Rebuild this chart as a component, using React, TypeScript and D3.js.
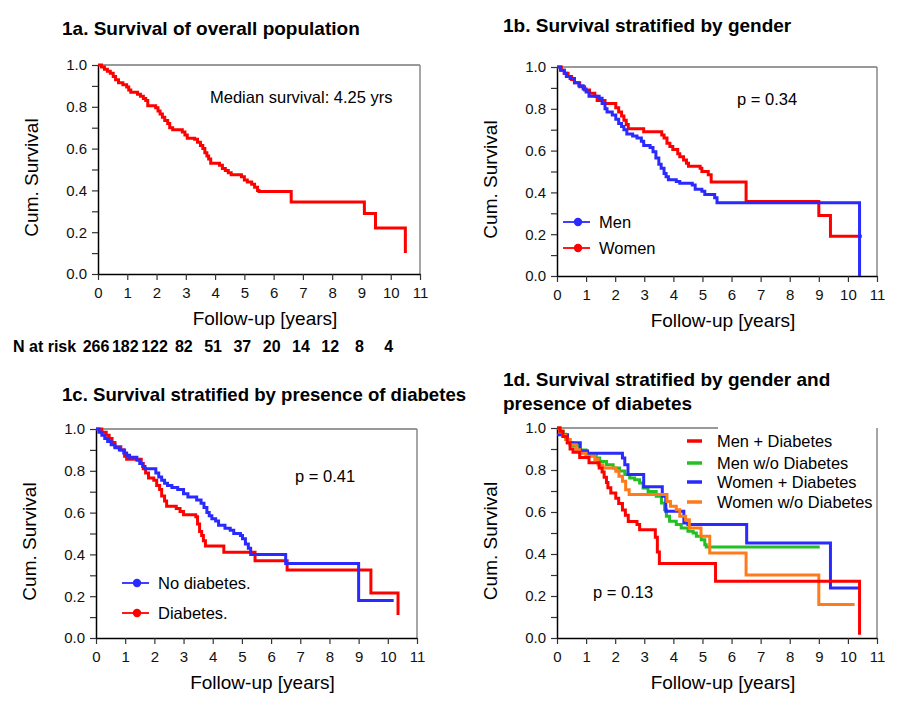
import { useEffect, useRef } from "react";
import { axisBottom, axisLeft, curveStepAfter, format, line, range, scaleLinear, select } from "d3";

type Pt = [number, number];

const years = range(0, 12);
const survTicks = range(0, 11).map(d => d / 10);
const atRisk = [266, 182, 122, 82, 51, 37, 20, 14, 12, 8, 4];

// 1a
const overall: Pt[] = [[0, 1], [0.12, 0.99], [0.22, 0.98], [0.32, 0.97], [0.42, 0.96], [0.52, 0.945], [0.6, 0.93], [0.7, 0.915], [0.85, 0.905], [0.98, 0.895], [1.05, 0.88], [1.12, 0.87], [1.35, 0.86], [1.45, 0.85], [1.55, 0.84], [1.63, 0.83], [1.7, 0.805], [1.97, 0.795], [2.05, 0.78], [2.12, 0.765], [2.2, 0.75], [2.28, 0.735], [2.38, 0.72], [2.45, 0.7], [2.55, 0.69], [2.88, 0.68], [2.97, 0.665], [3.05, 0.65], [3.3, 0.645], [3.4, 0.63], [3.5, 0.615], [3.58, 0.6], [3.65, 0.58], [3.72, 0.565], [3.78, 0.55], [3.85, 0.53], [4.15, 0.52], [4.25, 0.505], [4.35, 0.495], [4.45, 0.485], [4.55, 0.475], [4.9, 0.465], [5.0, 0.45], [5.1, 0.44], [5.25, 0.43], [5.35, 0.415], [5.45, 0.4], [5.5, 0.395], [6.6, 0.345], [9.1, 0.29], [9.48, 0.22], [10.5, 0.1]];

// 1b
const men: Pt[] = [[0, 1], [0.12, 0.985], [0.25, 0.97], [0.32, 0.955], [0.45, 0.945], [0.6, 0.925], [0.75, 0.91], [0.9, 0.895], [1.0, 0.88], [1.1, 0.86], [1.45, 0.85], [1.55, 0.825], [1.65, 0.8], [1.72, 0.785], [1.9, 0.77], [2.02, 0.75], [2.12, 0.73], [2.22, 0.715], [2.3, 0.7], [2.4, 0.68], [2.6, 0.67], [2.75, 0.66], [2.9, 0.645], [2.98, 0.625], [3.2, 0.615], [3.3, 0.595], [3.4, 0.565], [3.5, 0.535], [3.58, 0.515], [3.68, 0.49], [3.75, 0.475], [3.83, 0.46], [4.1, 0.452], [4.22, 0.444], [4.65, 0.435], [4.75, 0.415], [4.98, 0.405], [5.08, 0.39], [5.42, 0.375], [5.5, 0.35], [10.4, 0]];
const women: Pt[] = [[0, 1], [0.15, 0.985], [0.25, 0.97], [0.38, 0.955], [0.5, 0.94], [0.6, 0.925], [0.78, 0.905], [0.95, 0.89], [1.12, 0.875], [1.3, 0.86], [1.38, 0.84], [1.65, 0.825], [2.02, 0.805], [2.12, 0.785], [2.22, 0.765], [2.3, 0.745], [2.38, 0.725], [2.45, 0.705], [2.98, 0.69], [3.6, 0.675], [3.68, 0.66], [3.78, 0.635], [3.88, 0.62], [3.98, 0.605], [4.15, 0.585], [4.22, 0.57], [4.35, 0.555], [4.45, 0.54], [4.52, 0.525], [4.92, 0.515], [4.98, 0.5], [5.2, 0.485], [5.3, 0.45], [6.5, 0.357], [9.0, 0.29], [9.4, 0.19], [10.48, 0.19]];

// 1c
const noDiab: Pt[] = [[0, 1], [0.1, 0.985], [0.2, 0.97], [0.3, 0.955], [0.4, 0.94], [0.52, 0.925], [0.65, 0.91], [0.8, 0.9], [0.95, 0.885], [1.05, 0.875], [1.15, 0.865], [1.4, 0.85], [1.5, 0.835], [1.6, 0.82], [1.68, 0.81], [2.05, 0.79], [2.15, 0.77], [2.25, 0.755], [2.35, 0.74], [2.45, 0.73], [2.6, 0.72], [2.8, 0.71], [3.0, 0.69], [3.15, 0.675], [3.45, 0.66], [3.6, 0.645], [3.7, 0.625], [3.8, 0.6], [3.88, 0.585], [3.97, 0.57], [4.1, 0.56], [4.2, 0.54], [4.42, 0.525], [4.6, 0.515], [4.72, 0.5], [4.95, 0.49], [5.02, 0.475], [5.12, 0.45], [5.22, 0.43], [5.3, 0.4], [6.5, 0.356], [9.0, 0.18], [10.2, 0.18]];
const diab: Pt[] = [[0, 1], [0.2, 0.985], [0.35, 0.97], [0.45, 0.955], [0.55, 0.935], [0.65, 0.915], [0.85, 0.9], [0.98, 0.87], [1.05, 0.855], [1.55, 0.835], [1.62, 0.81], [1.7, 0.79], [1.8, 0.765], [1.98, 0.755], [2.08, 0.73], [2.18, 0.71], [2.25, 0.68], [2.35, 0.655], [2.42, 0.63], [2.75, 0.62], [2.88, 0.605], [3.0, 0.59], [3.42, 0.58], [3.48, 0.545], [3.55, 0.51], [3.62, 0.49], [3.68, 0.465], [3.75, 0.44], [4.38, 0.41], [5.45, 0.37], [6.55, 0.325], [9.42, 0.215], [10.35, 0.11]];

// 1d
const menDiab: Pt[] = [[0, 1], [0.1, 0.985], [0.2, 0.96], [0.35, 0.93], [0.45, 0.9], [0.55, 0.885], [0.78, 0.86], [1.1, 0.835], [1.45, 0.81], [1.55, 0.79], [1.62, 0.765], [1.7, 0.74], [1.75, 0.715], [1.85, 0.69], [2.02, 0.665], [2.12, 0.64], [2.25, 0.61], [2.35, 0.585], [2.45, 0.555], [2.75, 0.54], [2.84, 0.515], [3.38, 0.48], [3.45, 0.41], [3.52, 0.355], [5.45, 0.27], [10.4, 0.016]];
const menNoDiab: Pt[] = [[0, 1], [0.12, 0.985], [0.22, 0.97], [0.3, 0.945], [0.45, 0.93], [0.55, 0.915], [0.78, 0.895], [1.0, 0.875], [1.35, 0.857], [1.47, 0.84], [1.7, 0.825], [1.93, 0.81], [2.15, 0.795], [2.33, 0.778], [2.5, 0.762], [2.67, 0.754], [2.84, 0.738], [2.96, 0.714], [3.13, 0.698], [3.41, 0.675], [3.59, 0.643], [3.7, 0.611], [3.76, 0.58], [3.87, 0.556], [4.1, 0.54], [4.27, 0.524], [4.5, 0.508], [4.68, 0.5], [4.79, 0.484], [4.96, 0.468], [5.08, 0.444], [5.13, 0.433], [9.03, 0.433]];
const womenDiab: Pt[] = [[0, 0.968], [0.36, 0.93], [0.8, 0.89], [1.05, 0.88], [2.25, 0.857], [2.33, 0.825], [2.44, 0.778], [2.98, 0.72], [3.62, 0.675], [3.74, 0.603], [4.36, 0.548], [4.5, 0.54], [6.52, 0.452], [9.4, 0.238], [10.42, 0.238]];
const womenNoDiab: Pt[] = [[0, 1], [0.1, 0.985], [0.2, 0.965], [0.3, 0.945], [0.44, 0.92], [0.66, 0.897], [0.78, 0.88], [1.0, 0.865], [1.3, 0.85], [1.41, 0.825], [1.58, 0.81], [2.02, 0.794], [2.13, 0.77], [2.25, 0.746], [2.36, 0.706], [2.48, 0.683], [3.78, 0.65], [3.9, 0.627], [4.1, 0.611], [4.22, 0.58], [4.42, 0.563], [4.55, 0.524], [4.95, 0.484], [5.25, 0.405], [6.5, 0.3], [9.0, 0.16], [10.23, 0.16]];

const RED = "#ff0000";
const BLUE = "#2a2aff";
const GREEN = "#22c022";
const ORANGE = "#ff7a1a";
const FONT = "'Liberation Sans', Arial, sans-serif";

type Panel = {
  left: number; right: number; top: number; bottom: number;
  topEnd?: number;
  curves: Array<{ data: Pt[]; color: string }>;
};

const panels: Panel[] = [
  { left: 98, right: 420, top: 65, bottom: 274, curves: [{ data: overall, color: RED }] },
  { left: 557, right: 877, top: 67, bottom: 276, curves: [{ data: women, color: RED }, { data: men, color: BLUE }] },
  { left: 96, right: 417, top: 429, bottom: 638, curves: [{ data: diab, color: RED }, { data: noDiab, color: BLUE }] },
  {
    left: 557, right: 877, top: 428, bottom: 638, topEnd: 718,
    curves: [{ data: menNoDiab, color: GREEN }, { data: womenDiab, color: BLUE }, { data: womenNoDiab, color: ORANGE }, { data: menDiab, color: RED }],
  },
];

export default function App() {
  const ref = useRef<SVGSVGElement>(null);

  useEffect(() => {
    const svg = select(ref.current);
    svg.selectAll("*").remove();

    const scales = panels.map(p => {
      const x = scaleLinear().domain([0, 11]).range([p.left, p.right]);
      const y = scaleLinear().domain([0, 1]).range([p.bottom, p.top]);
      const g = svg.append("g");

      // frame
      g.append("line").attr("x1", p.left).attr("x2", p.topEnd ?? p.right)
        .attr("y1", p.top).attr("y2", p.top).attr("stroke", "#777").attr("stroke-width", 1.5);
      g.append("line").attr("x1", p.right).attr("x2", p.right)
        .attr("y1", p.top).attr("y2", p.bottom).attr("stroke", "#888").attr("stroke-width", 1.5);

      const xa = g.append("g").attr("transform", `translate(0,${p.bottom})`)
        .call(axisBottom(x).tickValues(years).tickSize(6).tickSizeOuter(0).tickPadding(7));
      const ya = g.append("g").attr("transform", `translate(${p.left},0)`)
        .call(axisLeft(y).tickValues(survTicks).tickSize(6).tickSizeOuter(0).tickPadding(5)
          .tickFormat(d => (Math.round(+d * 10) % 2 === 0 ? format(".1f")(+d) : "")));
      [xa, ya].forEach(a => {
        a.select(".domain").attr("stroke", "#000").attr("stroke-width", 1.5);
        a.selectAll(".tick line").attr("stroke", "#333").attr("stroke-width", 1.2);
        a.selectAll("text").attr("font-size", 15).attr("font-family", FONT).attr("fill", "#111");
      });

      p.curves.forEach(c => {
        g.append("path").datum(c.data)
          .attr("d", line<Pt>().x(d => x(d[0])).y(d => y(d[1])).curve(curveStepAfter))
          .attr("fill", "none").attr("stroke", c.color).attr("stroke-width", 3);
      });

      g.append("text").attr("transform", `translate(${p.left - 60},${(p.top + p.bottom) / 2 + 8}) rotate(-90)`)
        .attr("text-anchor", "middle").attr("font-size", 19).attr("font-family", FONT).text("Cum. Survival");
      g.append("text").attr("x", (p.left + p.right) / 2 + 6).attr("y", p.bottom + 51)
        .attr("text-anchor", "middle").attr("font-size", 19).attr("font-family", FONT).text("Follow-up [years]");
      return { x, y };
    });

    const txt = (x: number, y: number, s: string, size = 16, weight = "normal") =>
      svg.append("text").attr("x", x).attr("y", y).attr("font-size", size)
        .attr("font-weight", weight).attr("font-family", FONT).attr("fill", "#000").text(s);

    // titles
    txt(62, 35, "1a. Survival of overall population", 19, "bold");
    txt(503, 32, "1b. Survival stratified by gender", 19, "bold");
    txt(62, 401, "1c. Survival stratified by presence of diabetes", 18.6, "bold");
    txt(503, 386, "1d. Survival stratified by gender and", 19, "bold");
    txt(503, 410, "presence of diabetes", 19, "bold");

    // annotations
    txt(210, 103, "Median survival: 4.25 yrs", 16.5);
    txt(737, 105, "p = 0.34", 16.5);
    txt(295, 482, "p = 0.41", 16.5);
    txt(593, 598, "p = 0.13", 16.5);

    // N at risk
    txt(13, 352, "N at risk", 16, "bold");
    const x1a = scales[0].x;
    svg.append("g").selectAll("text").data(atRisk).enter().append("text")
      .attr("x", (d, i) => x1a(years[i]) - 2).attr("y", 352).attr("text-anchor", "middle")
      .attr("font-size", 16).attr("font-weight", "bold").attr("font-family", FONT).text(d => d);

    // dot legends
    const dotLegend = (x: number, y: number, color: string, label: string) => {
      svg.append("line").attr("x1", x).attr("x2", x + 27).attr("y1", y).attr("y2", y)
        .attr("stroke", color).attr("stroke-width", 1.8);
      svg.append("circle").attr("cx", x + 15).attr("cy", y).attr("r", 4.2).attr("fill", color);
      txt(x + 36, y + 6, label, 16.5);
    };
    dotLegend(563, 222, BLUE, "Men");
    dotLegend(563, 248, RED, "Women");
    dotLegend(122, 583, BLUE, "No  diabetes.");
    dotLegend(122, 613, RED, "Diabetes.");

    // 1d legend
    const leg = [
      { label: "Men + Diabetes", color: RED, y: 441 },
      { label: "Men w/o Diabetes", color: GREEN, y: 463 },
      { label: "Women + Diabetes", color: BLUE, y: 482 },
      { label: "Women w/o Diabetes", color: ORANGE, y: 502 },
    ];
    leg.forEach(l => {
      svg.append("line").attr("x1", 687).attr("x2", 702).attr("y1", l.y).attr("y2", l.y)
        .attr("stroke", l.color).attr("stroke-width", 3.5);
      txt(717, l.y + 6, l.label, 16.4);
    });
  }, []);

  return (
    <svg ref={ref} width={900} height={710}
      style={{ position: "absolute", left: 0, top: 0, background: "#fff" }} />
  );
}
